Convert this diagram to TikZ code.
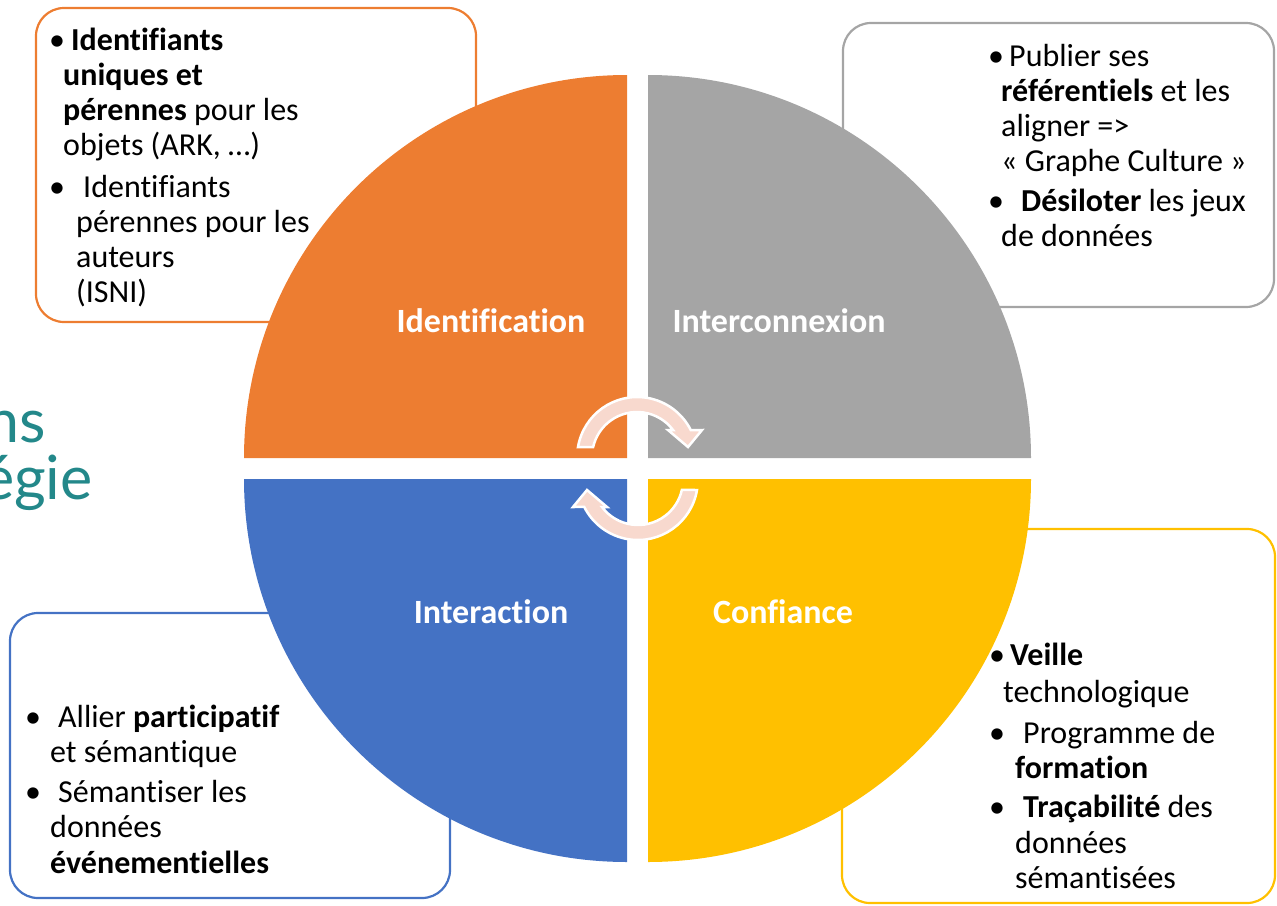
\documentclass[tikz,border=0pt]{standalone}
\usepackage{fontspec}
\setmainfont{Carlito}[Ligatures=NoCommon]
\newfontfamily\titlefont{Lato}
\definecolor{qorange}{HTML}{ED7D31}
\definecolor{qgray}{HTML}{A5A5A5}
\definecolor{qblue}{HTML}{4472C4}
\definecolor{qyellow}{HTML}{FFC000}
\definecolor{tealtitle}{HTML}{23888A}
\definecolor{arrowpink}{RGB}{248,217,206}
\begin{document}
\begin{tikzpicture}[x=1pt,y=-1pt,
  box/.style={rounded corners=28pt, line width=2.2pt},
  txt/.style={anchor=base west, inner sep=0pt, font=\fontsize{32}{35}\selectfont},
  lbl/.style={anchor=base, inner sep=0pt, text=white, font=\fontsize{34}{40}\selectfont\bfseries},
  cyc/.style={fill=arrowpink, draw=white, line width=2.5pt},
  ttl/.style={anchor=base east, inner sep=0pt, text=tealtitle, font=\titlefont\fontsize{61}{61}\selectfont}]
\useasboundingbox (0,0) rectangle (1277,905);
\clip (0,0) rectangle (1277,905);
% title fragment
\node[ttl] (t1) at (46,442) {ns};
\node[ttl] (t2) at (93,499) {égie};
% boxes
\draw[box, draw=qorange] (36,8) rectangle (476,322);
\draw[box, draw=qgray] (843,23) rectangle (1274,307);
\draw[box, draw=qyellow] (842,529) rectangle (1275,903);
\draw[box, draw=qblue] (10,613) rectangle (450,898);
% quarters
\fill[qorange] (627,458) -- ++(180:383) arc[start angle=180, end angle=270, radius=383] -- cycle;
\fill[qgray] (648,458) -- ++(270:383) arc[start angle=270, end angle=360, radius=383] -- cycle;
\fill[qyellow] (648,479) -- ++(0:383) arc[start angle=0, end angle=90, radius=383] -- cycle;
\fill[qblue] (627,479) -- ++(90:383) arc[start angle=90, end angle=180, radius=383] -- cycle;
% labels
\node[lbl] (lid) at (491,332) {Identification};
\node[lbl] (lint) at (779,332) {Interconnexion};
\node[lbl] (lia) at (491,623) {Interaction};
\node[lbl] (lco) at (783,623) {Confiance};
% cycle arrows
\draw[cyc] (578,447) arc[start angle=189.6, end angle=333.3, radius=60]
  -- (702,430) -- (688,447) -- (668,430) -- (673,430)
  arc[start angle=323.1, end angle=192.8, radius=45] -- cycle;
\begin{scope}[rotate around={180:(637.5,468.5)}]
\draw[cyc] (578,447) arc[start angle=189.6, end angle=333.3, radius=60]
  -- (702,430) -- (688,447) -- (668,430) -- (673,430)
  arc[start angle=323.1, end angle=192.8, radius=45] -- cycle;
\end{scope}
% orange box text
\node[txt] (ob1) at (49,50) {•};
\node[txt] (o1) at (71,50) {\textbf{Identifiants}};
\node[txt] (o2) at (63,85) {\textbf{uniques et}};
\node[txt] (o3) at (63,120) {\textbf{pérennes} pour les};
\node[txt] (o4) at (63,155) {objets (ARK, …)};
\node[txt] (ob2) at (49,197) {•};
\node[txt] (o5) at (83,197) {Identifiants};
\node[txt] (o6) at (76,232) {pérennes pour les};
\node[txt] (o7) at (76,267) {auteurs};
\node[txt] (o8) at (76,302) {(ISNI)};
% gray box text
\node[txt] (gb1) at (988,66) {•};
\node[txt] (g1) at (1009,66) {Publier ses};
\node[txt] (g2) at (1001,101) {\textbf{référentiels} et les};
\node[txt] (g3) at (1001,136) {aligner =>};
\node[txt] (g4) at (1001,171) {« Graphe Culture »};
\node[txt] (gb2) at (988,211) {•};
\node[txt] (g5) at (1021,211) {\textbf{Désiloter} les jeux};
\node[txt] (g6) at (1001,246) {de données};
% yellow box text
\node[txt] (yb1) at (989,665) {•};
\node[txt] (y1) at (1010,665) {\textbf{Veille}};
\node[txt] (y2) at (1003,702) {technologique};
\node[txt] (yb2) at (989,743) {•};
\node[txt] (y3) at (1023,743) {Programme de};
\node[txt] (y4) at (1015,778) {\textbf{formation}};
\node[txt] (yb3) at (989,817) {•};
\node[txt] (y5) at (1023,817) {\textbf{Traçabilité} des};
\node[txt] (y6) at (1015,853) {données};
\node[txt] (y7) at (1015,888) {sémantisées};
% blue box text
\node[txt] (bb1) at (25,727) {•};
\node[txt] (b1) at (58,727) {Allier \textbf{participatif}};
\node[txt] (b2) at (50,762) {et sémantique};
\node[txt] (bb2) at (25,802) {•};
\node[txt] (b3) at (58,802) {Sémantiser les};
\node[txt] (b4) at (50,837) {données};
\node[txt] (b5) at (50,873) {\textbf{événementielles}};
\end{tikzpicture}
\end{document}
